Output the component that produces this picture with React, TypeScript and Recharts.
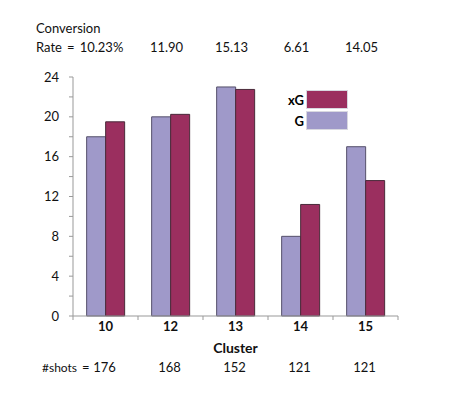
import { BarChart, Bar, XAxis, YAxis } from "recharts";

const clusters = ["10", "12", "13", "14", "15"];
const gValues = [18, 20, 23, 8, 17];
const xgValues = [19.5, 20.25, 22.75, 11.2, 13.6];
const conversionRates = ["10.23%", "11.90", "15.13", "6.61", "14.05"];
const shotCounts = [176, 168, 152, 121, 121];
const yTicks = [0, 2, 4, 6, 8, 10, 12, 14, 16, 18, 20, 22, 24];

const G_COLOR = "#9f99c9";
const XG_COLOR = "#9b2f5f";
const FONT = "Lato, 'Open Sans', sans-serif";
const HALF_BAND = 32.5;

const data = clusters.map((c, i) => ({
  cluster: c,
  G: gValues[i],
  xG: xgValues[i],
  rate: conversionRates[i],
  shots: shotCounts[i],
}));

function ClusterTick(props: any) {
  const { x, payload, index } = props;
  return (
    <g>
      {index === 0 && <line x1={x - HALF_BAND} x2={x - HALF_BAND} y1={316} y2={320} stroke="#999" />}
      <line x1={x + HALF_BAND} x2={x + HALF_BAND} y1={316} y2={320} stroke="#999" />
      <text x={x} y={331} textAnchor="middle" fontWeight={700} fontSize={13} fill="#111" fontFamily={FONT}>
        {payload.value}
      </text>
    </g>
  );
}

function RateTick(props: any) {
  const { x, payload, index } = props;
  return (
    <g fontFamily={FONT} fontSize={13} fill="#111">
      {index === 0 && (
        <>
          <text x={36} y={33}>Conversion</text>
          <text x={36} y={52}>Rate</text>
          <text x={67} y={52}>=</text>
        </>
      )}
      <text x={x - 4} y={52} textAnchor="middle">{payload.value}</text>
    </g>
  );
}

function ShotsTick(props: any) {
  const { x, payload, index } = props;
  return (
    <g fontFamily={FONT} fontSize={13} fill="#111">
      {index === 0 && (
        <>
          <text x={42} y={372} fontSize={12}>#shots</text>
          <text x={82} y={372}>=</text>
        </>
      )}
      <text x={x - 1} y={372} textAnchor="middle">{payload.value}</text>
    </g>
  );
}

function LegendBox() {
  const rows = [
    { name: "xG", color: XG_COLOR },
    { name: "G", color: G_COLOR },
  ];
  return (
    <div style={{ position: "absolute", left: 270, top: 89, fontFamily: FONT }}>
      {rows.map((r) => (
        <div key={r.name} style={{ display: "flex", alignItems: "center", height: 21 }}>
          <span style={{ width: 34, textAlign: "right", fontWeight: 700, fontSize: 13, paddingRight: 2 }}>{r.name}</span>
          <span style={{ width: 42, height: 19, background: r.color, border: "1px solid #d8d8e0", boxSizing: "border-box" }} />
        </div>
      ))}
    </div>
  );
}

export default function App() {
  return (
    <div style={{ position: "absolute", left: 0, top: 0, width: 462, height: 399, background: "#fff" }}>
      <BarChart
        width={462}
        height={399}
        data={data}
        margin={{ top: 0, right: 64, bottom: 43, left: 0 }}
        barGap={0}
        barCategoryGap="21%"
      >
        <XAxis
          xAxisId="rate"
          orientation="top"
          dataKey="rate"
          height={77}
          axisLine={false}
          tickLine={false}
          tick={<RateTick />}
          interval={0}
        />
        <XAxis
          dataKey="cluster"
          height={20}
          axisLine={{ stroke: "#999" }}
          tickLine={false}
          tick={<ClusterTick />}
          interval={0}
          label={{ value: "Cluster", position: "insideBottom", offset: -17, fontWeight: 700, fontSize: 14, fill: "#111", fontFamily: FONT }}
        />
        <XAxis
          xAxisId="shots"
          dataKey="shots"
          height={20}
          axisLine={false}
          tickLine={false}
          tick={<ShotsTick />}
          interval={0}
        />
        <YAxis
          width={73}
          domain={[0, 24]}
          ticks={yTicks}
          interval={0}
          axisLine={{ stroke: "#999" }}
          tickLine={{ stroke: "#999" }}
          tickSize={4}
          tickMargin={10}
          tick={{ fontSize: 13, fill: "#111", fontFamily: FONT }}
          tickFormatter={(v: number) => (v % 4 === 0 ? String(v) : "")}
        />
        <Bar dataKey="G" fill={G_COLOR} stroke="#55506a" strokeWidth={1} isAnimationActive={false} />
        <Bar dataKey="xG" fill={XG_COLOR} stroke="#4a2a3a" strokeWidth={1} isAnimationActive={false} />
      </BarChart>
      <LegendBox />
    </div>
  );
}
